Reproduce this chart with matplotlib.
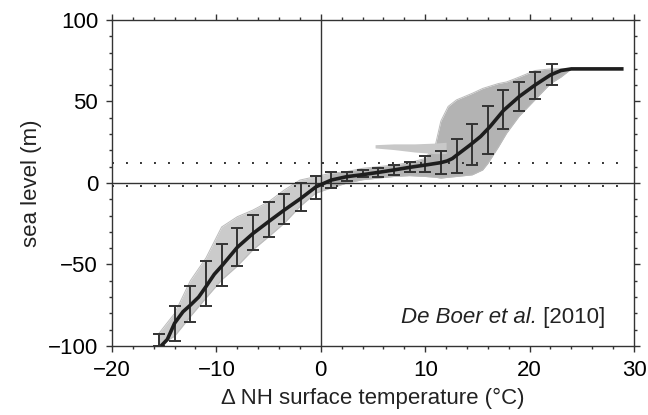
import matplotlib
matplotlib.use("Agg")
from matplotlib import pyplot as plt
import numpy as np

plt.rcParams['font.family'] = ['Liberation Sans', 'DejaVu Sans']

# ... mean relation (thick black line)
curve_T = [-15.3, -14.7, -14.0, -13.2, -12.5, -11.7, -11.0, -10.2, -9.5, -8.0, -6.5, -5.0, -3.5,
           -1.9, -0.45, 1.0, 2.5, 4.0, 5.5, 7.0, 8.5, 10.0, 11.5, 12.1, 12.6, 13.0,
           14.3, 15.3, 16.2, 17.5, 19.0, 20.5, 22.0, 23.0, 24.0, 29.0]
curve_SL = [-100, -96, -86, -79, -75, -70, -63.6, -56, -51, -39.5, -31, -23.7, -16.6,
            -9.4, -2.3, 1.8, 3.9, 5.1, 6.5, 8.0, 9.6, 11.0, 12.5, 13.5, 15.0, 17.0,
            23.3, 28.5, 34.5, 44.5, 53, 60, 66.3, 69.0, 70, 70]

# ... error bars
eb_T = [-15.5, -14.0, -12.5, -11.0, -9.5, -8.0, -6.5, -5.0, -3.5, -1.9, -0.45, 1.0, 2.5,
        4.0, 5.5, 7.0, 8.5, 10.0, 11.5, 13.0, 14.5, 16.0, 17.5, 19.0, 20.5, 22.1]
eb_lo = [-100, -97, -85, -75.5, -63, -51, -41.3, -33.3, -25, -17, -9.7, -2.9, 1.2,
         3.7, 3.9, 5.1, 6.7, 6.9, 5.3, 5.9, 10.8, 17.8, 33.3, 44.2, 51.7, 60.3]
eb_hi = [-92.6, -75.5, -63, -48, -37.2, -27.4, -19.4, -11.5, -6.5, 0, 4.5, 6.5, 7,
         7.8, 9.4, 11.2, 12.7, 16.6, 19.8, 26.8, 36, 47.4, 56.9, 62, 68.3, 72.8]

# ... envelope of the individual model runs (grey cloud)
cloud_T = [-15.6, -14.0, -12.5, -11.0, -9.5, -8.0, -6.5, -5.0, -3.5, -2.0, -0.5, 1.0,
           2.5, 4.0, 5.5, 7.0, 8.5, 10.0, 11.0, 11.5, 12.2, 13.0, 14.5, 15.5, 16.0,
           17.0, 17.8, 19.0, 20.5, 22.0, 23.0, 24.0]
cloud_lo = [-100, -94, -82, -70.6, -59.5, -51, -41, -33, -24.7, -14.5, -6.3, -3,
            0, 2, 3, 4, 4.5, 4, 3.5, 3, 3.5, 4, 5, 8, 12,
            22, 30.6, 41, 51, 61, 65, 70]
cloud_hi = [-93, -80, -60, -46, -27, -20.7, -16.6, -11.5, -4.3, 1.8, 3.9, 6,
            7, 9, 10, 11, 12.5, 15, 24, 38, 47, 51, 55, 58, 59,
            61, 62, 65, 69, 70, 70, 70]

# ... thin wisps of runs at about 20 m
wisp_T = [5.2, 7.0, 9.0, 11.0, 12.0]
wisp_lo = [21.5, 20.5, 19.0, 18.0, 18.0]
wisp_hi = [23.5, 24.0, 24.0, 24.5, 25.0]

dotted_levels = [12, -1.9]

fig = plt.figure(figsize=(6.48, 4.15), dpi=100)
ax = fig.add_axes([0.1728, 0.1663, 0.8056, 0.7855])

k = cloud_T.index(1.0)
ax.fill_between(cloud_T[:k + 1], cloud_lo[:k + 1], cloud_hi[:k + 1],
                color='#cbcbcb', lw=0, zorder=1)
ax.fill_between(cloud_T[k:], cloud_lo[k:], cloud_hi[k:],
                color='#b3b3b3', lw=0, zorder=1)
ax.plot(cloud_T, cloud_lo, color='#bbbbbb', lw=0.7, zorder=1)
ax.plot(cloud_T, cloud_hi, color='#bbbbbb', lw=0.7, zorder=1)
ax.fill_between(wisp_T, wisp_lo, wisp_hi, color='#c8c8c8', lw=0, zorder=1)

ax.axhline(0, color='#333333', lw=1.0, zorder=2)
ax.axvline(0, color='#333333', lw=1.0, zorder=2)
for lev in dotted_levels:
    ax.plot([-20.0, 29.0], [lev, lev], color='#333333', lw=1.4,
            linestyle=(0, (1, 6.2)), zorder=2.5)

eb_lo = np.array(eb_lo)
eb_hi = np.array(eb_hi)
mid = (eb_lo + eb_hi) / 2
half = (eb_hi - eb_lo) / 2
ax.errorbar(eb_T, mid, yerr=half, fmt='none', ecolor='#333333', elinewidth=1.4,
            capsize=4.5, capthick=1.4, zorder=3)

ax.plot(curve_T, curve_SL, color='#1e1e1e', lw=2.6, solid_capstyle='butt', zorder=4)

ax.set_xlim(-20, 30)
ax.set_ylim(-100, 100)
ax.set_xticks([-20, -10, 0, 10, 20, 30])
ax.set_yticks([-100, -50, 0, 50, 100])
ax.set_xticks(np.arange(-20, 31, 2), minor=True)
ax.set_yticks(np.arange(-100, 101, 10), minor=True)
ax.tick_params(which='both', direction='out', top=True, right=True, color='#333333',
               labelsize=16, width=1.0)
ax.tick_params(which='major', length=4, pad=6)
ax.tick_params(which='minor', length=2.2)
for s in ax.spines.values():
    s.set_color('#333333')
    s.set_linewidth(1.0)

ax.set_xlabel('\u0394 NH surface temperature (\u00b0C)', fontsize=16, labelpad=5,
              color='#222222')
ax.set_ylabel('sea level (m)', fontsize=16, labelpad=4, color='#222222')

# ... citation: italic authors, upright year
t_year = ax.text(27.2, -86, ' [2010]', ha='right', va='baseline', fontsize=16,
                 color='#222222')
fig.canvas.draw()
bb = t_year.get_window_extent()
x_left = ax.transData.inverted().transform((bb.x0, bb.y0))[0]
ax.text(x_left, -86, 'De Boer et al.', ha='right', va='baseline', fontsize=16,
        style='italic', color='#222222')

plt.savefig("out.png", dpi=100)
